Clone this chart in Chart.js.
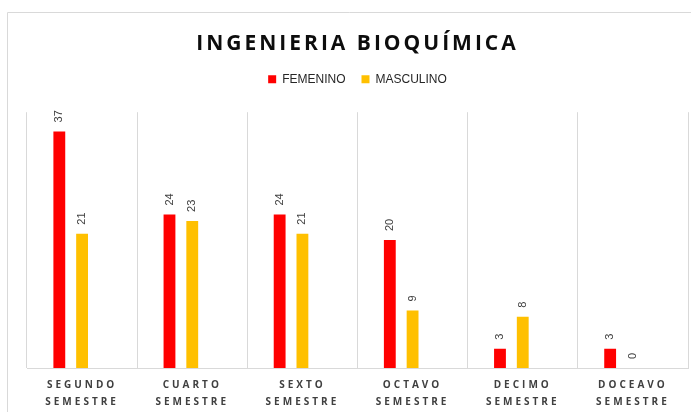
<!DOCTYPE html>
<html>
<head>
<meta charset="utf-8">
<script src="https://cdn.jsdelivr.net/npm/chart.js@4.4.1/dist/chart.umd.min.js"></script>
<style>
  html, body { margin: 0; padding: 0; background: #fff; }
  #wrap { width: 691px; height: 412px; }
</style>
</head>
<body>
<div id="wrap"><canvas id="chart"></canvas></div>
<script>
const semesters = [
    ['SEGUNDO', 'SEMESTRE'],
    ['CUARTO', 'SEMESTRE'],
    ['SEXTO', 'SEMESTRE'],
    ['OCTAVO', 'SEMESTRE'],
    ['DECIMO', 'SEMESTRE'],
    ['DOCEAVO', 'SEMESTRE']
];
const femenino = [37, 24, 24, 20, 3, 3];
const masculino = [21, 23, 21, 9, 8, 0];
// the original sheet keeps an empty third series, which leaves a free slot right of each pair
const emptySlot = [];

// canvas letterSpacing for title and category labels
function spaced(obj, method, spacing) {
    if (!obj || obj['_spaced_' + method]) return;
    const orig = obj[method];
    obj[method] = function (...args) {
        const ctx = this.ctx;
        ctx.save();
        ctx.letterSpacing = spacing;
        orig.apply(this, args);
        ctx.restore();
    };
    obj['_spaced_' + method] = true;
}

const layoutTweaks = {
    id: 'layoutTweaks',
    afterInit(chart) {
        // extra room between legend and plot
        const fit = chart.legend.fit;
        chart.legend.fit = function () {
            fit.call(this);
            this.height += 17;
        };
        spaced(chart.titleBlock, 'draw', '3px');
    },
    afterLayout(chart) {
        spaced(chart.scales.x, 'drawLabels', '3px');
    },
    beforeDraw(chart) {
        const ctx = chart.ctx;
        ctx.save();
        ctx.strokeStyle = '#d9d9d9';
        ctx.lineWidth = 1;
        ctx.beginPath();
        ctx.moveTo(7.5, chart.height);
        ctx.lineTo(7.5, 12.5);
        ctx.lineTo(chart.width, 12.5);
        ctx.stroke();
        ctx.restore();
    }
};

const barLabels = {
    id: 'barLabels',
    afterDatasetsDraw(chart) {
        const ctx = chart.ctx;
        ctx.save();
        ctx.font = '11px "Liberation Sans"';
        ctx.fillStyle = '#404040';
        ctx.textAlign = 'left';
        ctx.textBaseline = 'middle';
        chart.data.datasets.forEach((ds, i) => {
            chart.getDatasetMeta(i).data.forEach((bar, j) => {
                const v = ds.data[j];
                if (v == null) return;
                ctx.save();
                ctx.translate(bar.x, bar.y - 9);
                ctx.rotate(-Math.PI / 2);
                ctx.fillText(v, 0, 0);
                ctx.restore();
            });
        });
        ctx.restore();
    }
};

const ctx = document.getElementById('chart').getContext('2d');
new Chart(ctx, {
    type: 'bar',
    data: {
        labels: semesters,
        datasets: [
            { label: 'FEMENINO', data: femenino, backgroundColor: '#ff0000' },
            { label: 'MASCULINO', data: masculino, backgroundColor: '#ffc000' },
            { label: 'VACIO', data: emptySlot, backgroundColor: '#ffffff' }
        ]
    },
    options: {
        responsive: true,
        maintainAspectRatio: false,
        animation: false,
        datasets: { bar: { categoryPercentage: 0.62, barPercentage: 0.52 } },
        layout: { padding: { top: 0, left: 27, right: 3, bottom: -8 } },
        plugins: {
            title: {
                display: true,
                text: 'INGENIERIA BIOQUÍMICA',
                color: '#0d0d0d',
                font: { family: '"Open Sans"', size: 21, weight: 'bold', lineHeight: 1.2 },
                padding: { top: 31, bottom: 1 }
            },
            legend: {
                labels: {
                    boxWidth: 8,
                    boxHeight: 8,
                    padding: 16,
                    color: '#262626',
                    font: { family: '"Liberation Sans"', size: 12 },
                    filter: (item) => item.datasetIndex < 2
                }
            },
            tooltip: { enabled: false }
        },
        scales: {
            x: {
                grid: { color: '#d9d9d9', drawTicks: false },
                border: { color: '#d9d9d9' },
                ticks: {
                    color: '#404040',
                    padding: 9,
                    maxRotation: 0,
                    autoSkip: false,
                    font: { family: '"Open Sans"', size: 10, weight: 'bold', lineHeight: 1.7 }
                }
            },
            y: { display: false, min: 0, max: 40 }
        }
    },
    plugins: [layoutTweaks, barLabels]
});
</script>
</body>
</html>
